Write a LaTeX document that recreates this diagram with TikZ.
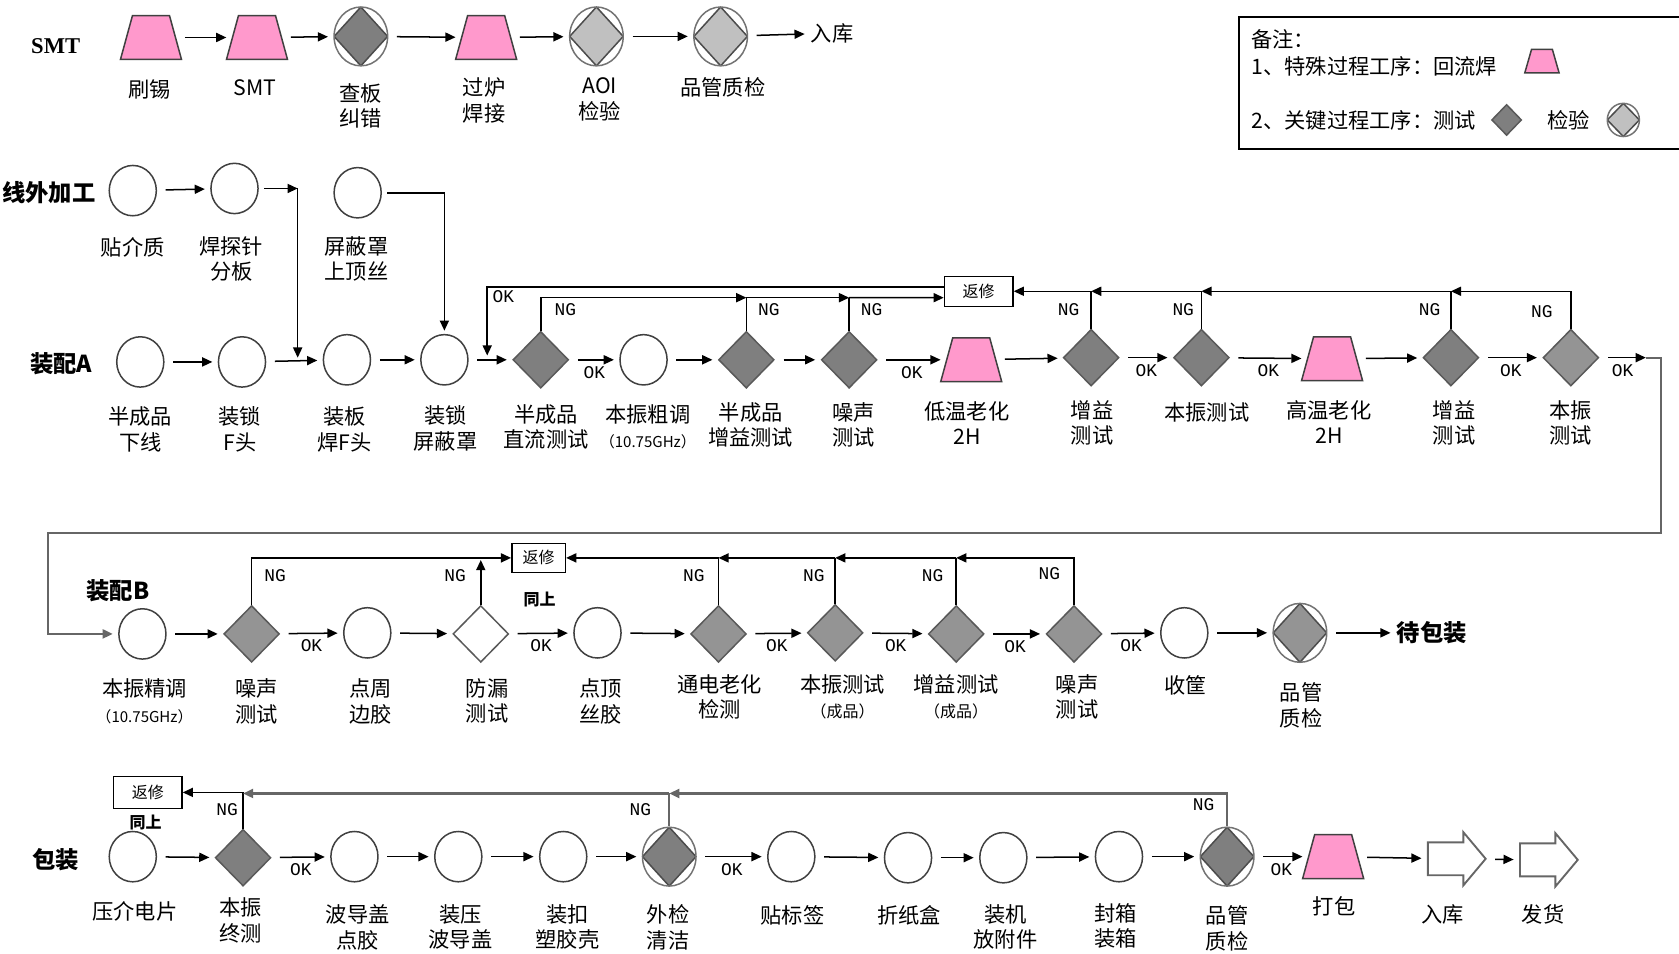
\documentclass[tikz,border=0pt]{standalone}
\usepackage{fontspec}
\setmainfont{Liberation Serif}
\setmonofont{Liberation Mono}
\newfontfamily\cjk{Noto Sans CJK SC}
\usetikzlibrary{shapes.geometric,shapes.arrows,arrows.meta}

\definecolor{hpink}{HTML}{FF99CC}
\definecolor{tdark}{HTML}{7F7F7F}
\definecolor{tmid}{HTML}{949494}
\definecolor{clight}{HTML}{C0C0C0}

\begin{document}
\begin{tikzpicture}[x=0.02cm,y=-0.02cm,line width=0.8pt,
  arr/.style={-{Triangle[length=1.9mm,width=1.7mm]}},
  flow/.style={arr,shorten <=0.16cm,shorten >=0.1cm},
  back/.style={draw=black!60,line width=1.1pt},
  procnode/.style={ellipse,draw=black!75,minimum width=0.88cm,minimum height=0.94cm,inner sep=0},
  testnode/.style={diamond,draw=black!65,fill=#1,minimum width=1.04cm,minimum height=1.06cm,inner sep=0},
  testnode/.default=tdark,
  heatnode/.style={trapezium,trapezium stretches=true,trapezium left angle=72,trapezium right angle=72,
    draw=black!75,fill=hpink,minimum width=1.14cm,minimum height=0.82cm,inner sep=1pt},
  checknode/.style={ellipse,draw=black!55,minimum width=1cm,minimum height=1.1cm,inner sep=0,
    path picture={\filldraw[fill=#1,draw=black!70] (path picture bounding box.north) -- (path picture bounding box.east)
      -- (path picture bounding box.south) -- (path picture bounding box.west) -- cycle;}},
  checknode/.default=tdark,
  fixbox/.style={draw,minimum width=1.28cm,minimum height=0.56cm,inner sep=0,font=\cjk\fontsize{8.5}{10}\selectfont},
  storearrow/.style={single arrow,draw=black!60,line width=1pt,minimum height=1.08cm,inner xsep=0,inner ysep=0.29cm,
    single arrow head extend=0.19cm,single arrow tip angle=100},
  lbl/.style={anchor=north,align=center,inner sep=0,font=\cjk\fontsize{11.3}{13.6}\selectfont},
  lgd/.style={inner sep=0,font=\cjk\fontsize{11.3}{13.6}\selectfont},
  oklbl/.style={font=\ttfamily\fontsize{9.5}{11}\selectfont,inner sep=1pt},
  rowlbl/.style={inner sep=0,font=\cjk\bfseries\fontsize{12.4}{14}\selectfont}
]
\useasboundingbox (0,0) rectangle (1568,890);

% legend
\draw (1157,16) rectangle (1600,139);
\node[lgd,anchor=west] (lg0) at (1168,37) {备注：};
\node[lgd,anchor=west] (lg1) at (1168,62) {1、特殊过程工序：回流焊};
\node[heatnode,minimum width=0.64cm,minimum height=0.44cm] (lgH) at (1440,57) {};
\node[lgd,anchor=west] (lg2) at (1168,112) {2、关键过程工序：测试};
\node[testnode,minimum width=0.56cm,minimum height=0.58cm] (lgT) at (1407,112) {};
\node[lgd] (lg3) at (1465,112) {检验};
\node[checknode=clight,minimum width=0.6cm,minimum height=0.62cm] (lgC) at (1516,112) {};

% SMT
\node[rowlbl,font=\bfseries\fontsize{12}{14}\selectfont] (rS) at (52,43) {SMT};
\node[heatnode] (hS1) at (141,35) {};
\node[heatnode] (hS2) at (240,35) {};
\node[checknode] (qS1) at (337,34) {};
\node[heatnode] (hS3) at (454,35) {};
\node[checknode=clight] (qS2) at (557,34) {};
\node[checknode=clight] (qS3) at (673,34) {};
\node[lgd] (tIn) at (777,31) {入库};
\node[lbl] (hS1-t) at (140,74) {刷锡};
\node[lbl] (hS2-t) at (238,74) {SMT};
\node[lbl] (qS1-t) at (337,77) {查板\\纠错};
\node[lbl] (hS3-t) at (452,72) {过炉\\焊接};
\node[lbl] (qS2-t) at (560,72) {AOI\\检验};
\node[lbl] (qS3-t) at (675,72) {品管质检};
\draw[flow] (hS1) -- (hS2);
\draw[flow] (hS2) -- (qS1);
\draw[flow] (qS1) -- (hS3);
\draw[flow] (hS3) -- (qS2);
\draw[flow] (qS2) -- (qS3);
\draw[flow] (qS3) -- (tIn);

% outside work
\node[rowlbl,anchor=east] (rO) at (90,180) {线外加工};
\node[procnode] (oA1) at (124,178) {};
\node[procnode] (oA2) at (219,176) {};
\node[procnode] (oA3) at (334,180) {};
\node[lbl] (oA1-t) at (124,221) {贴介质};
\node[lbl] (oA2-t) at (216,220) {焊探针\\分板};
\node[lbl] (oA3-t) at (333,220) {屏蔽罩\\上顶丝};
\draw[flow] (oA1) -- (oA2);
\coordinate (jO1) at (278,176);
\coordinate (jO2) at (278,334);
\draw[arr,shorten <=0.1cm] (oA2) -- (jO1);
\draw[arr] (jO1) -- (jO2);

% assembly A
\node[rowlbl] (rA) at (57,340) {装配A};
\node[procnode] (pA1) at (131,338) {};
\node[procnode] (pA2) at (226,338) {};
\node[procnode] (pA3) at (324,336) {};
\node[procnode] (pA4) at (415,336) {};
\node[testnode] (tA1) at (505,336) {};
\node[procnode] (pA5) at (601,336) {};
\node[testnode] (tA2) at (697,336) {};
\node[testnode] (tA3) at (793,336) {};
\node[heatnode] (hA1) at (907,336) {};
\node[testnode] (tA4) at (1019,334) {};
\node[testnode] (tA5) at (1122,334) {};
\node[heatnode] (hA2) at (1244,335) {};
\node[testnode] (tA6) at (1355,334) {};
\node[testnode=tmid] (tA7) at (1467,334) {};
\node[lbl] (pA1-t) at (131,379) {半成品\\下线};
\node[lbl] (pA2-t) at (224,379) {装锁\\F头};
\node[lbl] (pA3-t) at (322,379) {装板\\焊F头};
\node[lbl] (pA4-t) at (416,378) {装锁\\屏蔽罩};
\node[lbl] (tA1-t) at (510,377) {半成品\\直流测试};
\node[lbl] (pA5-t) at (605,377) {本振粗调\\{\fontsize{8}{10}\selectfont （10.75GHz）}};
\node[lbl] (tA2-t) at (701,375) {半成品\\增益测试};
\node[lbl] (tA3-t) at (797,375) {噪声\\测试};
\node[lbl] (hA1-t) at (903,374) {低温老化\\2H};
\node[lbl] (tA4-t) at (1020,373) {增益\\测试};
\node[lbl] (tA5-t) at (1127,375) {本振测试};
\node[lbl] (hA2-t) at (1241,373) {高温老化\\2H};
\node[lbl] (tA6-t) at (1358,373) {增益\\测试};
\node[lbl] (tA7-t) at (1467,373) {本振\\测试};
\draw[arr,shorten <=0.1cm,shorten >=0.06cm] (oA3) -| (pA4);
\draw[flow] (pA1) -- (pA2);
\draw[flow] (pA2) -- (pA3);
\draw[flow] (pA3) -- (pA4);
\draw[flow] (pA4) -- (tA1);
\draw[flow] (tA1) -- node[oklbl,below=2pt] (okA1) {OK} (pA5);
\draw[flow] (pA5) -- (tA2);
\draw[flow] (tA2) -- (tA3);
\draw[flow] (tA3) -- node[oklbl,below=2pt] (okA2) {OK} (hA1);
\draw[flow] (hA1) -- (tA4);
\draw[flow] (tA4) -- node[oklbl,below=2pt] (okA3) {OK} (tA5);
\draw[flow] (tA5) -- node[oklbl,below=2pt] (okA4) {OK} (hA2);
\draw[flow] (hA2) -- (tA6);
\draw[flow] (tA6) -- node[oklbl,below=2pt] (okA5) {OK} (tA7);
\coordinate (cAB) at (1537,334);
\draw[arr,shorten <=0.16cm] (tA7) -- node[oklbl,below=2pt] (okA6) {OK} (cAB);

% repair loops A
\node[fixbox] (rpA) at (914,272) {返修};
\coordinate (okA) at (455,332);
\coordinate (nA1) at (697,278);
\coordinate (nA2) at (793,278);
\coordinate (mA1) at (1019,272);
\coordinate (mA2) at (1122,272);
\coordinate (mA3) at (1355,272);
\draw[arr] ([yshift=0.08cm]rpA.west) -| (okA);
\node[oklbl] (okA0) at (470,277) {OK};
\draw[arr] (tA1.north) |- (nA1);
\draw (tA2.north) -- (nA1);
\draw[arr] (nA1) -- (nA2);
\draw (tA3.north) -- (nA2);
\draw[arr] (nA2) -- ([yshift=-0.12cm]rpA.west);
\draw[arr] (tA7.north) |- (mA3);
\draw (tA6.north) -- (mA3);
\draw[arr] (mA3) -- (mA2);
\draw (tA5.north) -- (mA2);
\draw[arr] (mA2) -- (mA1);
\draw (tA4.north) -- (mA1);
\draw[arr] (mA1) -- (rpA.east);
\node[oklbl] (ngA1) at (528,289) {NG};
\node[oklbl] (ngA2) at (718,289) {NG};
\node[oklbl] (ngA3) at (814,289) {NG};
\node[oklbl] (ngA4) at (998,289) {NG};
\node[oklbl] (ngA5) at (1105,289) {NG};
\node[oklbl] (ngA6) at (1335,289) {NG};
\node[oklbl] (ngA7) at (1440,291) {NG};

% assembly B
\node[rowlbl] (rB) at (110,552) {装配B};
\node[procnode] (pB1) at (133,592) {};
\node[testnode=tmid] (tB1) at (235,592) {};
\node[procnode] (pB2) at (343,591) {};
\node[testnode=white] (tB2) at (449,592) {};
\node[procnode] (pB3) at (558,591) {};
\node[testnode=tmid] (tB3) at (671,592) {};
\node[testnode=tmid] (tB4) at (780,591) {};
\node[testnode=tmid] (tB5) at (893,592) {};
\node[testnode=tmid] (tB6) at (1003,592) {};
\node[procnode] (pB4) at (1106,591) {};
\node[checknode=tmid] (qB1) at (1214,591) {};
\node[rowlbl] (tPack) at (1337,591) {待包装};
\node[lbl] (pB1-t) at (135,633) {本振精调\\{\fontsize{8}{10}\selectfont （10.75GHz）}};
\node[lbl] (tB1-t) at (240,633) {噪声\\测试};
\node[lbl] (pB2-t) at (346,633) {点周\\边胶};
\node[lbl] (tB2-t) at (455,633) {防漏\\测试};
\node[lbl] (pB3-t) at (561,633) {点顶\\丝胶};
\node[lbl] (tB3-t) at (672,629) {通电老化\\检测};
\node[lbl] (tB4-t) at (787,629) {本振测试\\{\fontsize{8.5}{10}\selectfont （成品）}};
\node[lbl] (tB5-t) at (893,629) {增益测试\\{\fontsize{8.5}{10}\selectfont （成品）}};
\node[lbl] (tB6-t) at (1006,629) {噪声\\测试};
\node[lbl] (pB4-t) at (1107,630) {收筐};
\node[lbl] (qB1-t) at (1215,637) {品管\\质检};
\coordinate (cAB2) at (1551,498);
\coordinate (cAB3) at (45,498);
\draw[back,arr,shorten >=0.1cm] (cAB) -| (cAB2) -- (cAB3) |- (pB1);
\draw[flow] (pB1) -- (tB1);
\draw[flow] (tB1) -- node[oklbl,below=2pt] (okB1) {OK} (pB2);
\draw[flow] (pB2) -- (tB2);
\draw[flow] (tB2) -- node[oklbl,below=2pt] (okB2) {OK} (pB3);
\draw[flow] (pB3) -- (tB3);
\draw[flow] (tB3) -- node[oklbl,below=2pt] (okB3) {OK} (tB4);
\draw[flow] (tB4) -- node[oklbl,below=2pt] (okB4) {OK} (tB5);
\draw[flow] (tB5) -- node[oklbl,below=2pt] (okB5) {OK} (tB6);
\draw[flow] (tB6) -- node[oklbl,below=2pt] (okB6) {OK} (pB4);
\draw[flow] (pB4) -- (qB1);
\draw[flow] (qB1) -- (tPack);

% repair loops B
\node[fixbox,minimum width=1cm,minimum height=0.54cm] (rpB) at (503,521) {返修};
\node[lgd,font=\cjk\bfseries\fontsize{8.5}{10}\selectfont] (sameB) at (504,560) {同上};
\coordinate (nB1) at (449,523);
\coordinate (mB1) at (671,521);
\coordinate (mB2) at (780,521);
\coordinate (mB3) at (893,521);
\draw[arr] (tB1.north) |- (rpB.west);
\draw[arr] (tB2.north) -- (nB1);
\draw[arr] (tB6.north) |- (mB3);
\draw (tB5.north) -- (mB3);
\draw[arr] (mB3) -- (mB2);
\draw (tB4.north) -- (mB2);
\draw[arr] (mB2) -- (mB1);
\draw (tB3.north) -- (mB1);
\draw[arr] (mB1) -- (rpB.east);
\node[oklbl] (ngB1) at (257,538) {NG};
\node[oklbl] (ngB2) at (425,538) {NG};
\node[oklbl] (ngB3) at (648,538) {NG};
\node[oklbl] (ngB4) at (760,538) {NG};
\node[oklbl] (ngB5) at (871,538) {NG};
\node[oklbl] (ngB6) at (980,536) {NG};

% packing
\node[rowlbl] (rC) at (52,803) {包装};
\node[procnode] (pC1) at (124,800) {};
\node[testnode] (tC1) at (227,801) {};
\node[procnode] (pC2) at (331,800) {};
\node[procnode] (pC3) at (428,800) {};
\node[procnode] (pC4) at (526,800) {};
\node[checknode] (qC1) at (625,800) {};
\node[procnode] (pC5) at (739,800) {};
\node[procnode] (pC6) at (848,801) {};
\node[procnode] (pC7) at (937,801) {};
\node[procnode] (pC8) at (1045,800) {};
\node[checknode] (qC2) at (1146,800) {};
\node[heatnode] (hC1) at (1245,800) {};
\node[storearrow] (aC1) at (1354,802) {};
\node[storearrow] (aC2) at (1440,803) {};
\node[lbl] (pC1-t) at (126,841) {压介电片};
\node[lbl] (tC1-t) at (225,838) {本振\\终测};
\node[lbl] (pC2-t) at (334,844) {波导盖\\点胶};
\node[lbl] (pC3-t) at (430,844) {装压\\波导盖};
\node[lbl] (pC4-t) at (530,844) {装扣\\塑胶壳};
\node[lbl] (qC1-t) at (624,844) {外检\\清洁};
\node[lbl] (pC5-t) at (740,845) {贴标签};
\node[lbl] (pC6-t) at (849,845) {折纸盒};
\node[lbl] (pC7-t) at (939,844) {装机\\放附件};
\node[lbl] (pC8-t) at (1042,843) {封箱\\装箱};
\node[lbl] (qC2-t) at (1146,845) {品管\\质检};
\node[lbl] (hC1-t) at (1246,837) {打包};
\node[lbl] (aC1-t) at (1347,844) {入库};
\node[lbl] (aC2-t) at (1441,844) {发货};
\draw[flow] (pC1) -- (tC1);
\draw[flow] (tC1) -- node[oklbl,below=2pt] (okC1) {OK} (pC2);
\draw[flow] (pC2) -- (pC3);
\draw[flow] (pC3) -- (pC4);
\draw[flow] (pC4) -- (qC1);
\draw[flow] (qC1) -- node[oklbl,below=2pt] (okC2) {OK} (pC5);
\draw[flow] (pC5) -- (pC6);
\draw[flow] (pC6) -- (pC7);
\draw[flow] (pC7) -- (pC8);
\draw[flow] (pC8) -- (qC2);
\draw[flow] (qC2) -- node[oklbl,below=2pt] (okC3) {OK} (hC1);
\draw[flow] (hC1) -- (aC1);
\draw[flow] (aC1) -- (aC2);

% repair loops packing
\node[fixbox,minimum height=0.6cm] (rpC) at (138,740) {返修};
\node[lgd,font=\cjk\bfseries\fontsize{8.5}{10}\selectfont] (sameC) at (136,768) {同上};
\coordinate (nC2) at (625,741);
\coordinate (nC3) at (227,741);
\draw[arr] (tC1.north) |- (rpC.east);
\draw[back,arr] (qC2.north) |- (nC2);
\draw[back] (qC1.north) -- (nC2);
\draw[back,arr] (nC2) -- (nC3);
\node[oklbl] (ngC1) at (212,756) {NG};
\node[oklbl] (ngC2) at (598,756) {NG};
\node[oklbl] (ngC3) at (1124,751) {NG};
\end{tikzpicture}
\end{document}
